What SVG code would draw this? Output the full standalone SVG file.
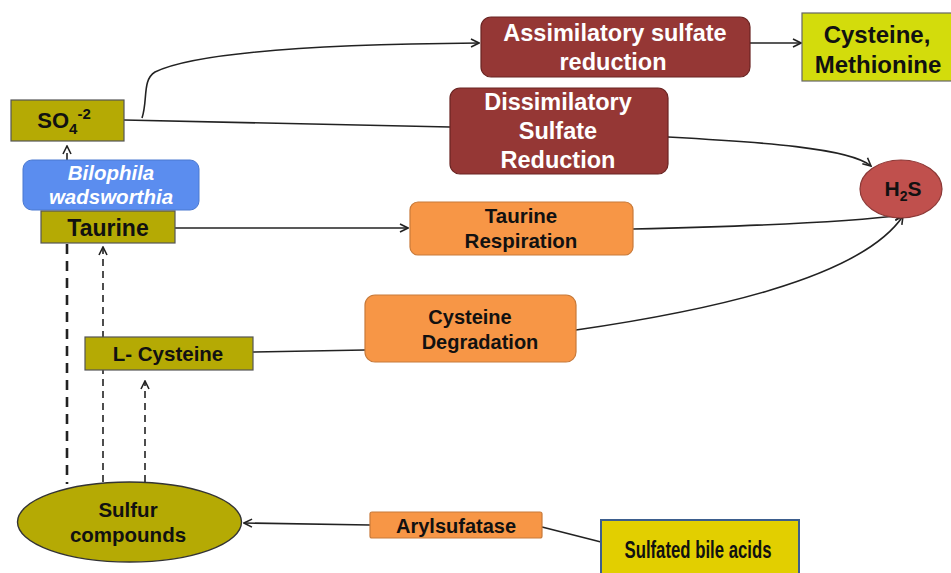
<svg xmlns="http://www.w3.org/2000/svg" width="951" height="573" viewBox="0 0 951 573">
<style>
text{font-family:"Liberation Sans",Arial,sans-serif;font-weight:bold;text-anchor:middle}
.olive{fill:#b5aa04;stroke:#555;stroke-width:1.2}
.red{fill:#953735;stroke:#6a2422;stroke-width:1.2}
.orange{fill:#f79646;stroke:#c87a3a;stroke-width:1.2}
.w{fill:#fff}
.k{fill:#111}
.ln{fill:none;stroke:#222;stroke-width:1.6}
.dash{fill:none;stroke:#222;stroke-width:1.6;stroke-dasharray:7 5}
.dash2{fill:none;stroke:#222;stroke-width:2.6;stroke-dasharray:10 7}
</style>
<defs>
<marker id="arr" viewBox="0 0 10 10" refX="9" refY="5" markerWidth="10" markerHeight="10" markerUnits="userSpaceOnUse" orient="auto">
<path d="M1,1 L9,5 L1,9" fill="none" stroke="#222" stroke-width="1.6"/>
</marker>
</defs>
<rect width="951" height="573" fill="#fff"/>
<g id="connectors">
<path class="ln" d="M142,118 C148,100 142,80 155,72 C200,50 350,44 479,43" marker-end="url(#arr)"/>
<path class="ln" d="M124,120 L450,127"/>
<path class="ln" d="M668,137 C760,142 850,148 871,166" marker-end="url(#arr)"/>
<path class="ln" d="M750,43 L801,43" marker-end="url(#arr)"/>
<path class="ln" d="M175,228 L408,228" marker-end="url(#arr)"/>
<path class="ln" d="M633,229 C760,226 850,222 903,215" marker-end="url(#arr)"/>
<path class="ln" d="M253,352 L365,350"/>
<path class="ln" d="M576,330 C700,312 860,280 903,216" marker-end="url(#arr)"/>
<path class="ln" d="M370,525 L244,523" marker-end="url(#arr)"/>
<path class="ln" d="M542,527 L601,542"/>
<path class="dash" d="M67,160 L67,146" marker-end="url(#arr)"/>
<path class="dash2" d="M67,244 L67,484"/>
<path class="dash" d="M103,482 L103,247" marker-end="url(#arr)"/>
<path class="dash" d="M145,482 L145,381" marker-end="url(#arr)"/>
</g>
<g id="so4">
<rect class="olive" x="11" y="100" width="113" height="41"/>
<text x="64" y="128" font-size="22" class="k">SO<tspan font-size="15" dy="6">4</tspan><tspan font-size="15" dy="-15">-2</tspan></text>
</g>
<g id="bilophila">
<rect x="23" y="160" width="176" height="50" rx="9" fill="#5b8def" stroke="#4a78d0" stroke-width="1"/>
<text x="111" y="180" font-size="20.5" font-style="italic" class="w">Bilophila</text>
<text x="111" y="204" font-size="20.5" font-style="italic" class="w">wadsworthia</text>
</g>
<g id="taurine">
<rect class="olive" x="41" y="211" width="134" height="32"/>
<text x="108" y="236" font-size="23" class="k">Taurine</text>
</g>
<g id="lcysteine">
<rect class="olive" x="85" y="337" width="168" height="33"/>
<text x="168" y="361" font-size="20.5" class="k">L- Cysteine</text>
</g>
<g id="sulfur">
<ellipse cx="129.5" cy="522" rx="112" ry="40" fill="#b5aa04" stroke="#333" stroke-width="1.4"/>
<text x="128" y="517" font-size="20.5" class="k">Sulfur</text>
<text x="128" y="542" font-size="20.5" class="k">compounds</text>
</g>
<g id="arylsulfatase">
<rect x="370" y="512" width="172" height="26" rx="2" class="orange"/>
<text x="456" y="533" font-size="20" class="k">Arylsufatase</text>
</g>
<g id="sulfated">
<rect x="601" y="520" width="198" height="60" fill="#e2cf00" stroke="#3d5e8e" stroke-width="2"/>
<text x="698" y="558" font-size="24" class="k" textLength="147" lengthAdjust="spacingAndGlyphs">Sulfated bile acids</text>
</g>
<g id="assimilatory">
<rect x="481" y="17" width="269" height="60" rx="10" class="red"/>
<text x="615" y="41" font-size="23.5" class="w">Assimilatory sulfate</text>
<text x="613" y="70" font-size="23.5" class="w">reduction</text>
</g>
<g id="cysmet">
<rect x="802" y="13" width="155" height="68" fill="#d3dc0c" stroke="#666" stroke-width="1.2"/>
<text x="877" y="43" font-size="24" class="k">Cysteine,</text>
<text x="878" y="73" font-size="24" class="k">Methionine</text>
</g>
<g id="dissimilatory">
<rect x="450" y="88" width="218" height="86" rx="10" class="red"/>
<text x="558" y="110" font-size="23.5" class="w">Dissimilatory</text>
<text x="558" y="139" font-size="23.5" class="w">Sulfate</text>
<text x="558" y="168" font-size="23.5" class="w">Reduction</text>
</g>
<g id="h2s">
<ellipse cx="901" cy="189" rx="41" ry="29" fill="#c0504d" stroke="#8c3836" stroke-width="1.2"/>
<text x="903" y="196" font-size="21" class="k">H<tspan font-size="14" dy="5">2</tspan><tspan dy="-5">S</tspan></text>
</g>
<g id="taurineresp">
<rect x="410" y="202" width="223" height="53" rx="8" class="orange"/>
<text x="521" y="223" font-size="20.5" class="k">Taurine</text>
<text x="521" y="248" font-size="20.5" class="k">Respiration</text>
</g>
<g id="cysdeg">
<rect x="365" y="295" width="211" height="67" rx="10" class="orange"/>
<text x="470" y="324" font-size="20" class="k">Cysteine</text>
<text x="480" y="349" font-size="20" class="k">Degradation</text>
</g>
</svg>
